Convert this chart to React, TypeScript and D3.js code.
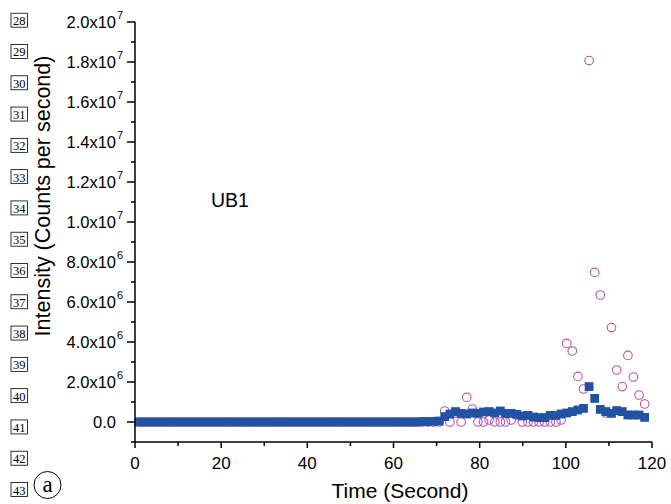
import React, { useRef, useEffect } from 'react';
import * as d3 from 'd3';

// time (s) of each acquisition
const TIMES = [
  0.9, 2.2, 3.5, 4.8, 6.1, 7.4, 8.6, 9.9, 11.2, 12.5,
  13.8, 15.1, 16.4, 17.7, 19.0, 20.3, 21.5, 22.8, 24.1, 25.4,
  26.7, 28.0, 29.3, 30.6, 31.9, 33.2, 34.4, 35.7, 37.0, 38.3,
  39.6, 40.9, 42.2, 43.5, 44.8, 46.1, 47.3, 48.6, 49.9, 51.2,
  52.5, 53.8, 55.1, 56.4, 57.7, 59.0, 60.2, 61.5, 62.8, 64.1,
  65.4, 66.7, 68.0, 69.3, 70.6, 71.9, 73.1, 74.4, 75.7, 77.0,
  78.3, 79.6, 80.9, 82.2, 83.5, 84.8, 86.0, 87.3, 88.6, 89.9,
  91.2, 92.5, 93.8, 95.1, 96.4, 97.7, 98.9, 100.2, 101.5, 102.8,
  104.1, 105.4, 106.7, 108.0, 109.3, 110.6, 111.8, 113.1, 114.4, 115.7,
  117.0, 118.3,
];

// filled squares, counts per second in units of 1e6
const SQUARES = [
  0, 0, 0, 0, 0, 0, 0, 0, 0, 0,
  0, 0, 0, 0, 0, 0, 0, 0, 0, 0,
  0, 0, 0, 0, 0, 0, 0, 0, 0, 0,
  0, 0, 0, 0, 0, 0, 0, 0, 0, 0,
  0, 0, 0, 0, 0, 0, 0, 0, 0, 0,
  0, 0.02, 0.02, 0.03, 0.05, 0.27, 0.4, 0.52, 0.43, 0.4,
  0.45, 0.43, 0.5, 0.52, 0.45, 0.55, 0.43, 0.43, 0.38, 0.3,
  0.33, 0.25, 0.22, 0.22, 0.33, 0.33, 0.4, 0.45, 0.52, 0.6,
  0.68, 1.77, 1.18, 0.63, 0.52, 0.43, 0.57, 0.52, 0.35, 0.35,
  0.35, 0.23,
];

// open circles, counts per second in units of 1e6
const CIRCLES = [
  0, 0, 0, 0, 0, 0, 0, 0, 0, 0,
  0, 0, 0, 0, 0, 0, 0, 0, 0, 0,
  0, 0, 0, 0, 0, 0, 0, 0, 0, 0,
  0, 0, 0, 0, 0, 0, 0, 0, 0, 0,
  0, 0, 0, 0, 0, 0, 0, 0, 0, 0,
  0, 0, 0, 0, 0, 0.55, 0, 0.45, 0, 1.23,
  0.65, 0, 0, 0.1, 0, 0, 0, 0.1, 0.35, 0,
  0, 0, 0, 0, 0, 0, 0.1, 3.93, 3.55, 2.28,
  1.65, 18.07, 7.48, 6.35, 0.45, 4.72, 2.6, 1.77, 3.33, 2.25,
  1.35, 0.9,
];

const X_TICKS = [0, 20, 40, 60, 80, 100, 120];
const Y_TICKS = [0, 2, 4, 6, 8, 10, 12, 14, 16, 18, 20];
const Y_LABELS = [
  ['0.0', ''], ['2.0x10', '6'], ['4.0x10', '6'], ['6.0x10', '6'], ['8.0x10', '6'],
  ['1.0x10', '7'], ['1.2x10', '7'], ['1.4x10', '7'], ['1.6x10', '7'], ['1.8x10', '7'], ['2.0x10', '7'],
];
const LINE_NUMBERS = [28, 29, 30, 31, 32, 33, 34, 35, 36, 37, 38, 39, 40, 41, 42, 43];

const BLUE = '#2352a2';
const PINK = '#b652ad';
const FONT = 'Liberation Sans, Arial, Helvetica, sans-serif';
const SERIF = 'Liberation Serif, Times New Roman, serif';

function App() {
  const ref = useRef<SVGSVGElement>(null);

  useEffect(() => {
    const svg = d3.select(ref.current);
    svg.selectAll('*').remove();

    const x = d3.scaleLinear().domain([0, 120]).range([135, 652]);
    const y = d3.scaleLinear().domain([-1, 20]).range([442, 22]);
    const lineY = d3.scaleLinear().domain([28, 43]).range([20.7, 490]);

    // margin line numbers
    const nums = svg.append('g');
    LINE_NUMBERS.forEach(n => {
      const cy = lineY(n);
      nums.append('rect')
        .attr('x', 11).attr('y', cy - 7.5)
        .attr('width', 16.5).attr('height', 14)
        .attr('fill', 'none').attr('stroke', '#000').attr('stroke-width', 0.8);
      nums.append('text')
        .attr('x', 19.3).attr('y', cy + 4.5)
        .attr('text-anchor', 'middle')
        .style('font-family', SERIF)
        .style('font-size', '12.5px')
        .text(n);
    });

    // panel letter
    svg.append('circle').attr('cx', 47.5).attr('cy', 485).attr('r', 13.5)
      .attr('fill', 'none').attr('stroke', '#000').attr('stroke-width', 1);
    svg.append('text').attr('x', 47.5).attr('y', 492).attr('text-anchor', 'middle')
      .style('font-family', SERIF)
      .style('font-size', '23px').text('a');

    // data: circles under squares
    svg.append('g').selectAll('circle')
      .data(TIMES.map((t, i) => [t, CIRCLES[i]]))
      .enter().append('circle')
      .attr('cx', d => x(d[0])).attr('cy', d => y(d[1]))
      .attr('r', 4.3)
      .attr('fill', 'none').attr('stroke', PINK).attr('stroke-width', 1.1);

    const s = 8.8;
    svg.append('g').selectAll('rect')
      .data(TIMES.map((t, i) => [t, SQUARES[i]]))
      .enter().append('rect')
      .attr('x', d => x(d[0]) - s / 2).attr('y', d => y(d[1]) - s / 2)
      .attr('width', s).attr('height', s)
      .attr('fill', BLUE);

    // axes
    const axes = svg.append('g').attr('stroke', '#000').attr('stroke-width', 1.5);
    axes.append('line').attr('x1', 135).attr('x2', 135).attr('y1', y(20)).attr('y2', y(-1));
    axes.append('line').attr('x1', 135).attr('x2', x(120)).attr('y1', y(-1)).attr('y2', y(-1));

    d3.range(-1, 21).forEach(v => {
      const major = v % 2 === 0;
      axes.append('line')
        .attr('x1', 135).attr('x2', 135 - (major ? 8 : 4))
        .attr('y1', y(v)).attr('y2', y(v));
    });
    d3.range(0, 121, 10).forEach(v => {
      const major = v % 20 === 0;
      axes.append('line')
        .attr('x1', x(v)).attr('x2', x(v))
        .attr('y1', y(-1)).attr('y2', y(-1) + (major ? 6 : 4));
    });

    // tick labels
    Y_TICKS.forEach((v, i) => {
      const [main, sup] = Y_LABELS[i];
      svg.append('text')
        .attr('x', 116).attr('y', y(v) + 6)
        .attr('text-anchor', 'end')
        .style('font-family', FONT).style('font-size', '16.5px')
        .text(main);
      if (sup) {
        svg.append('text')
          .attr('x', 117).attr('y', y(v) - 3)
          .style('font-family', FONT).style('font-size', '11px')
          .text(sup);
      }
    });
    X_TICKS.forEach(v => {
      svg.append('text')
        .attr('x', x(v)).attr('y', 469)
        .attr('text-anchor', 'middle')
        .style('font-family', FONT).style('font-size', '17px')
        .text(v);
    });

    // titles
    svg.append('text')
      .attr('x', 400).attr('y', 498)
      .attr('text-anchor', 'middle')
      .style('font-family', FONT).style('font-size', '21px')
      .text('Time (Second)');
    svg.append('text')
      .attr('transform', 'translate(50, 196) rotate(-90)')
      .attr('text-anchor', 'middle')
      .style('font-family', FONT).style('font-size', '21.5px')
      .text('Intensity (Counts per second)');

    svg.append('text')
      .attr('x', 211).attr('y', 207)
      .style('font-family', FONT).style('font-size', '19.5px')
      .text('UB1');
  }, []);

  return (
    <svg ref={ref} width={671} height={504}
      style={{ position: 'absolute', left: 0, top: 0, background: '#fff' }} />
  );
}

export default App;
